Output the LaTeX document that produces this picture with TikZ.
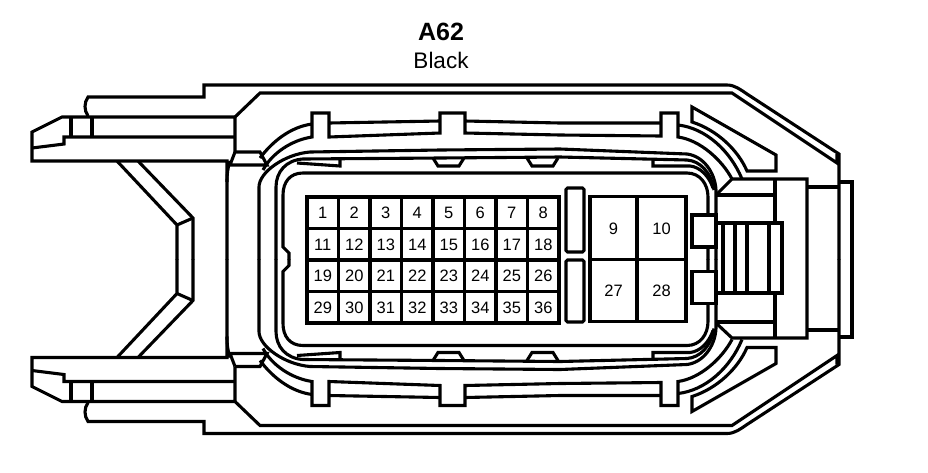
\documentclass[tikz,border=0pt]{standalone}
\usepackage{fontspec}
\setmainfont{Liberation Sans}
\newcommand{\halfbody}{
	\draw (88,116) .. controls (84,110) and (84,103) .. (88,97)--(204,97)--(204,85)--(727,85)
		.. controls (735,85) and (741,90) .. (747,94)--(839,154)--(839,259.5);
	\draw (235,117)--(260,93)--(732,93)--(837,163)--(837,154);
	\draw (235,152)--(235,117)--(62,117)--(32,132)--(32,161)--(227,161)--(227,259.5);
	\draw (32,148)--(64,144)--(64,137)--(235,137);
	\draw (71,117)--(71,137)(92,117)--(92,137);
	\draw (230,161) .. controls (228,167) and (227,173) .. (227,182);
	\draw (235,152)--(260,152)--(267,165)--(230,165)--(235,152);
	\draw (117,161)--(177,225)--(177,259.5);
	\draw (138,161)--(193,218)--(193,259.5);
	\draw (177,225)--(193,218);
	\draw (259,259.5)--(259,187) .. controls (259,172) and (285,154) .. (310,152)--(440,150)--(560,149)--(687,154)
		.. controls (703,156) and (715,172) .. (716,190)--(716,259.5);
	\draw (276,259.5)--(276,187) .. controls (276,172) and (286,160) .. (303,159)--(440,158)--(560,157)--(687,160)
		.. controls (700,161) and (711,172) .. (714,190);
	\draw (297,163)--(340,166)--(340,159);
	\draw (653,160)--(653,166)--(690,166) .. controls (700,167) and (709,176) .. (713,188);
	\draw (289,259.5)--(289,253)--(283,247)--(283,195) .. controls (283,182) and (290,173) .. (303,173)--(687,173)
		.. controls (700,173) and (708,184) .. (708,197)--(708,259.5);
	\draw (433,158)--(438,166)--(459,166)--(464,158);
	\draw (527,158)--(532,166)--(553,166)--(558,158);
	\draw (263,170) .. controls (272,153) and (292,140) .. (312,137)--(312,113)--(329,113)--(329,137)--(440,133)--(440,113)
		--(465,113)--(465,133)--(560,135)--(661,136)--(661,113)--(678,113)--(678,137)
		.. controls (700,140) and (722,160) .. (732,179);
	\draw (260,158) .. controls (272,142) and (290,127) .. (312,124);
	\draw (329,123)--(440,121)(465,121)--(560,123)--(661,123);
	\draw (678,125) .. controls (705,128) and (730,150) .. (742,179);
	\draw (692,107)--(692,122) .. controls (717,130) and (738,150) .. (747,171)--(776,171)--(776,155)--cycle;
	\draw[fill=white] (692,215)--(716,215)--(716,247)--(692,247)--cycle;
}
\begin{document}
\begin{tikzpicture}[x=1pt,y=-1pt,line width=3.1pt]
\tikzstyle{cell}=[rectangle, draw, line width=3.1pt, inner sep=0pt, text height=12pt, text depth=0pt,
                        minimum width=31.5pt, minimum height=31.5pt, font=\fontsize{16.5}{18}\selectfont]
\useasboundingbox (0,0) rectangle (928,472);
	\node[font=\bfseries\fontsize{25}{28}\selectfont] (title) at (441,32){A62};
	\node[font=\fontsize{22.5}{26}\selectfont] (colour) at (441,60){Black};
\halfbody
\begin{scope}[shift={(0,518.5)},yscale=-1]
\halfbody
\end{scope}
% hub at the right
\draw (716,195)--(732,179)--(807,179)--(807,338)--(732,338)--(716,323);
\draw (716,195)--(775,195)(775,179)--(775,223);
\draw (716,223)--(782,223)--(782,293)--(716,293);
\draw (775,293)--(775,338)(716,322)--(775,322);
\draw (723,223)--(723,293)(735,223)--(735,293)(747,223)--(747,293)(769,223)--(769,293);
\draw (807,187)--(838,187)(807,330)--(838,330);
\draw[line width=3.6pt] (838,182)--(852,182)--(852,337)--(838,337);
\draw[rounded corners=1.5pt] (566,188) rectangle (584,252);
\draw[rounded corners=1.5pt] (566,260) rectangle (584,322);
	\node[cell] (p1) at (322.75,212.75){1};
	\node[cell] (p2) at (354.25,212.75){2};
	\node[cell] (p3) at (385.75,212.75){3};
	\node[cell] (p4) at (417.25,212.75){4};
	\node[cell] (p5) at (448.75,212.75){5};
	\node[cell] (p6) at (480.25,212.75){6};
	\node[cell] (p7) at (511.75,212.75){7};
	\node[cell] (p8) at (543.25,212.75){8};
	\node[cell] (p11) at (322.75,244.25){11};
	\node[cell] (p12) at (354.25,244.25){12};
	\node[cell] (p13) at (385.75,244.25){13};
	\node[cell] (p14) at (417.25,244.25){14};
	\node[cell] (p15) at (448.75,244.25){15};
	\node[cell] (p16) at (480.25,244.25){16};
	\node[cell] (p17) at (511.75,244.25){17};
	\node[cell] (p18) at (543.25,244.25){18};
	\node[cell] (p19) at (322.75,275.75){19};
	\node[cell] (p20) at (354.25,275.75){20};
	\node[cell] (p21) at (385.75,275.75){21};
	\node[cell] (p22) at (417.25,275.75){22};
	\node[cell] (p23) at (448.75,275.75){23};
	\node[cell] (p24) at (480.25,275.75){24};
	\node[cell] (p25) at (511.75,275.75){25};
	\node[cell] (p26) at (543.25,275.75){26};
	\node[cell] (p29) at (322.75,307.25){29};
	\node[cell] (p30) at (354.25,307.25){30};
	\node[cell] (p31) at (385.75,307.25){31};
	\node[cell] (p32) at (417.25,307.25){32};
	\node[cell] (p33) at (448.75,307.25){33};
	\node[cell] (p34) at (480.25,307.25){34};
	\node[cell] (p35) at (511.75,307.25){35};
	\node[cell] (p36) at (543.25,307.25){36};
	\node[cell, minimum width=47pt, minimum height=62.5pt] (p9) at (613.5,228){9};
	\node[cell, minimum width=49pt, minimum height=62.5pt] (p10) at (661.5,228){10};
	\node[cell, minimum width=47pt, minimum height=62.5pt] (p27) at (613.5,290.5){27};
	\node[cell, minimum width=49pt, minimum height=62.5pt] (p28) at (661.5,290.5){28};
\end{tikzpicture}
\end{document}
